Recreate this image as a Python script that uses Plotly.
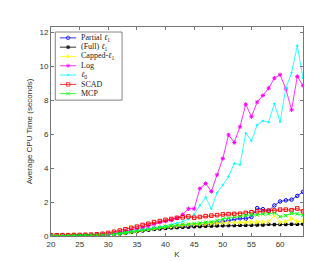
import plotly.graph_objects as go

K = list(range(20, 65))

partial_l1 = [0.02,0.02,0.02,0.03,0.03,0.03,0.04,0.04,0.05,0.06,
              0.08,0.11,0.15,0.2,0.25,0.3,0.34,0.39,0.44,0.48,
              0.52,0.55,0.57,0.6,0.62,0.6,0.64,0.68,0.72,0.78,
              0.85,0.92,0.98,1.04,1.02,1.12,1.64,1.58,1.48,1.8,
              2.03,2.1,2.14,2.36,2.6]
full_l1 = [0.02,0.02,0.02,0.03,0.03,0.03,0.04,0.04,0.05,0.06,
           0.08,0.1,0.14,0.18,0.22,0.27,0.31,0.35,0.39,0.42,
           0.45,0.48,0.5,0.52,0.53,0.55,0.56,0.58,0.59,0.6,
           0.61,0.62,0.62,0.63,0.63,0.64,0.65,0.65,0.7,0.67,
           0.68,0.68,0.69,0.69,0.7]
capped_l1 = [0.02,0.02,0.02,0.03,0.03,0.03,0.04,0.04,0.05,0.06,
             0.08,0.11,0.15,0.2,0.25,0.3,0.35,0.4,0.45,0.5,
             0.54,0.57,0.6,0.63,0.66,0.68,0.7,0.72,0.74,0.76,
             0.77,0.78,0.78,0.79,0.8,0.8,0.82,0.82,0.83,1.22,
             0.8,0.85,1.02,0.85,0.9]
log_pen = [0.03,0.03,0.03,0.04,0.04,0.04,0.05,0.05,0.06,0.08,
           0.11,0.16,0.22,0.28,0.35,0.42,0.5,0.6,0.7,0.8,
           0.87,0.93,1.05,1.27,1.6,1.6,2.8,3.09,2.62,3.6,
           4.56,5.95,5.5,6.43,7.75,7.02,7.88,8.27,8.7,9.29,
           9.49,8.66,7.42,9.39,8.85]
l0 = [0.02,0.02,0.03,0.03,0.03,0.04,0.04,0.05,0.05,0.06,
      0.08,0.11,0.15,0.2,0.25,0.3,0.35,0.4,0.46,0.52,
      0.6,0.68,0.76,0.85,1.0,1.28,1.8,2.28,1.6,2.55,
      3.0,3.5,4.27,4.2,6.05,5.6,6.53,6.78,6.7,7.79,
      6.72,8.7,9.6,11.2,9.3]
scad = [0.04,0.04,0.05,0.05,0.06,0.06,0.07,0.08,0.1,0.13,
        0.18,0.25,0.32,0.4,0.48,0.55,0.65,0.72,0.82,0.88,
        0.95,1.0,1.07,1.1,1.15,1.08,1.12,1.17,1.2,1.23,
        1.27,1.29,1.3,1.31,1.36,1.4,1.45,1.46,1.49,1.5,
        1.55,1.55,1.52,1.62,1.45]
mcp = [0.02,0.02,0.03,0.03,0.03,0.04,0.04,0.05,0.05,0.06,
       0.08,0.11,0.15,0.2,0.25,0.3,0.35,0.4,0.45,0.5,
       0.55,0.6,0.64,0.68,0.7,0.73,0.76,0.8,0.83,0.9,
       1.0,1.05,1.1,1.15,1.2,1.25,1.24,1.3,1.3,1.37,
       1.14,1.2,1.33,1.3,1.22]

labels = ["Partial <i>ℓ</i><sub>1</sub>", "(Full) <i>ℓ</i><sub>1</sub>",
          "Capped-<i>ℓ</i><sub>1</sub>", "Log", "<i>ℓ</i><sub>0</sub>", "SCAD", "MCP"]
series = [partial_l1, full_l1, capped_l1, log_pen, l0, scad, mcp]
colors = ["#0000ff", "#000000", "#ffff00", "#ff00ff", "#00ffff", "#ff0000", "#00ff00"]
symbols = ["circle-open", "square", "triangle-right-open", "asterisk-open",
           "circle", "square-open", "x-thin-open"]
msizes = [3.5, 2.5, 3.5, 3.5, 1.5, 3.5, 3.5]

fig = go.Figure()
for ys, c, s, ms in zip(series, colors, symbols, msizes):
    fig.add_trace(go.Scatter(
        x=K, y=ys, mode="lines+markers",
        line=dict(color=c, width=0.8),
        marker=dict(symbol=s, size=ms, color=c, line=dict(color=c, width=1)),
        showlegend=False, hoverinfo="skip"))

# custom legend (overlay axes in 0..1 coordinates)
lx0, lx1, lxm, ltx = 0.035, 0.10, 0.068, 0.11
ly_top, ly_step = 0.948, 0.0445
for i, (lab, c, s, ms) in enumerate(zip(labels, colors, symbols, msizes)):
    yy = ly_top - i * ly_step
    fig.add_trace(go.Scatter(
        x=[lx0, lxm, lx1], y=[yy, yy, yy], mode="lines+markers",
        xaxis="x2", yaxis="y2",
        line=dict(color=c, width=0.8),
        marker=dict(symbol=s, size=[0, ms, 0], color=c, line=dict(color=c, width=1)),
        showlegend=False, hoverinfo="skip"))
    fig.add_annotation(x=ltx, y=yy, xref="x2", yref="y2", text=lab, showarrow=False,
                       xanchor="left", yanchor="middle",
                       font=dict(family="Liberation Serif", size=8, color="#222"))

fig.add_shape(type="rect", xref="paper", yref="paper", x0=0.017, x1=0.282,
              y0=0.65, y1=0.976, line=dict(color="#333", width=0.6),
              fillcolor="white", layer="below")

axis_common = dict(showgrid=False, zeroline=False, showline=True, linecolor="#777",
                   linewidth=0.8, mirror="ticks", ticks="inside", ticklen=3,
                   tickcolor="#777", tickfont=dict(family="Liberation Sans", size=8, color="#333"))
fig.update_layout(
    width=327, height=261,
    margin=dict(l=43, r=32, t=19, b=30),
    paper_bgcolor="white", plot_bgcolor="white",
    xaxis=dict(range=[20, 64], tickvals=[20, 25, 30, 35, 40, 45, 50, 55, 60],
               title=dict(text="K", standoff=3, font=dict(family="Liberation Sans", size=8, color="#333")),
               **axis_common),
    yaxis=dict(range=[0, 12.3], tickvals=[0, 2, 4, 6, 8, 10, 12],
               title=dict(text="Average CPU Time (seconds)", standoff=5,
                          font=dict(family="Liberation Sans", size=8, color="#333")),
               **axis_common),
    xaxis2=dict(overlaying="x", anchor="y2", range=[0, 1], visible=False),
    yaxis2=dict(overlaying="y", anchor="x2", range=[0, 1], visible=False),
)

fig.write_html("out.html")
